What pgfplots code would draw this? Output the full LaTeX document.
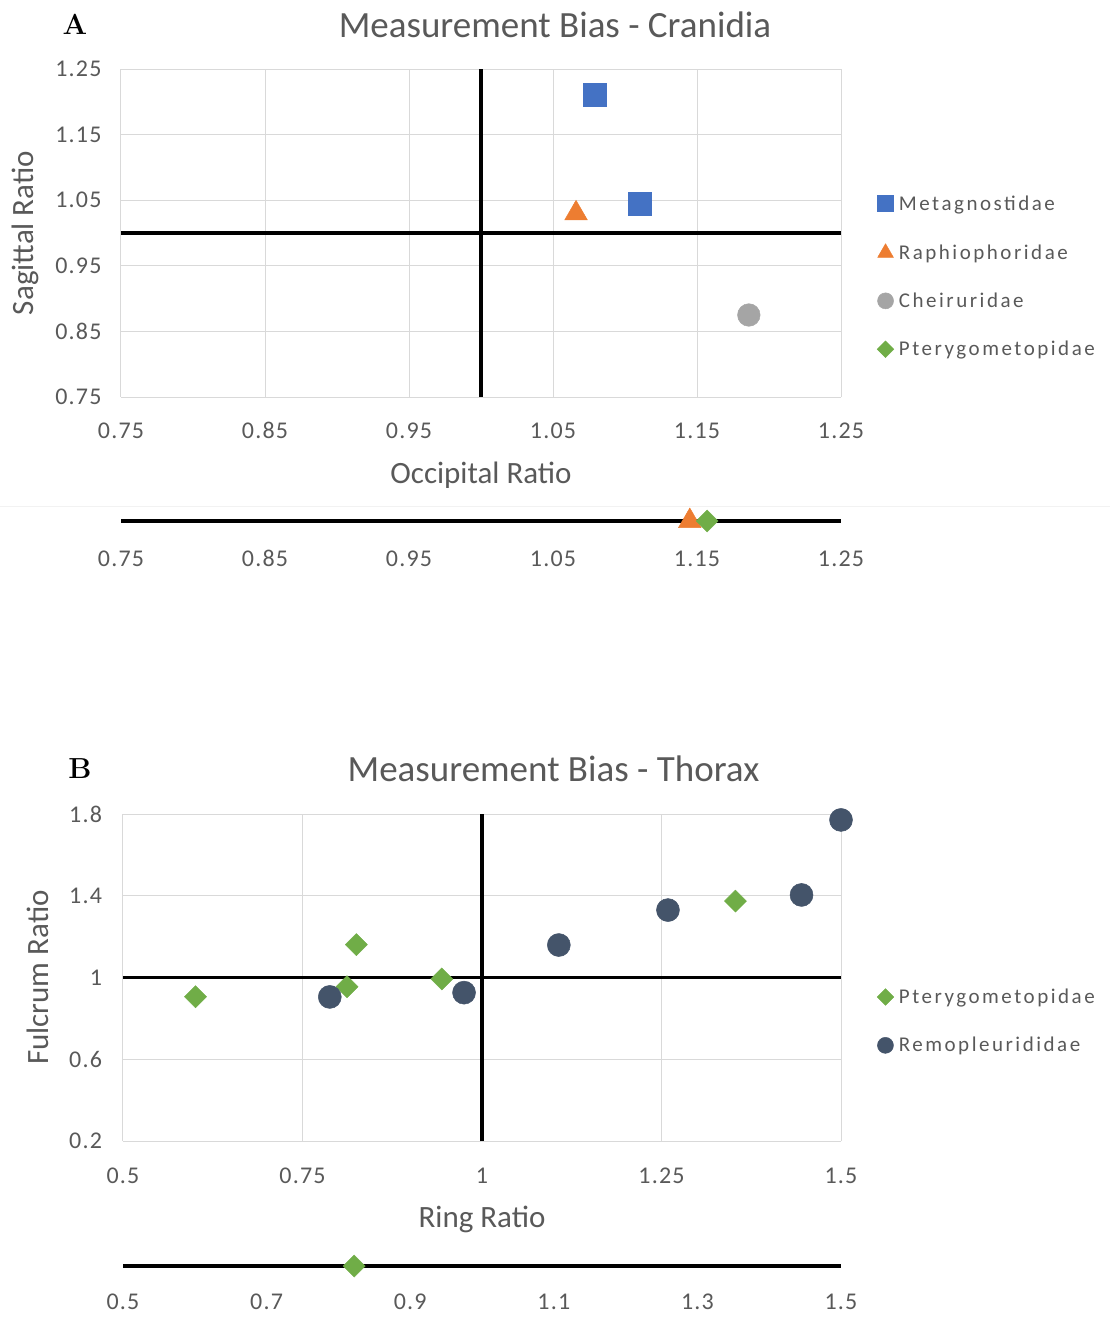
\documentclass[border=0pt]{standalone}
\usepackage{fontspec}
\setsansfont{Carlito}[Numbers=Lining]
\newfontfamily\legfont[LetterSpace=12]{Carlito}
\newfontfamily\tickfont[LetterSpace=5,Numbers=Lining]{Carlito}
\renewcommand{\familydefault}{\sfdefault}
\usepackage{pgfplots}
\pgfplotsset{compat=1.18}
\definecolor{cblue}{HTML}{4472C4}
\definecolor{corange}{HTML}{ED7D31}
\definecolor{cgray}{HTML}{A5A5A5}
\definecolor{cgreen}{HTML}{70AD47}
\definecolor{cnavy}{HTML}{44546A}
\definecolor{gridc}{HTML}{D9D9D9}
\definecolor{txt}{HTML}{595959}
\newcommand\ls{\rule[-4pt]{0pt}{18pt}}
\pgfplotsset{
  xl/.style={scale only axis, clip=false, axis line style={draw=none}, major tick length=0pt,
    xmajorgrids, ymajorgrids, grid style={gridc, line width=1pt},
    tick label style={font=\tickfont\fontsize{24}{24}\selectfont, text=txt},
    x tick label style={text height=15.5pt, text depth=0pt},
    label style={font=\fontsize{31}{31}\selectfont, text=txt},
    legend image code/.code={\draw[##1] plot coordinates {(0pt,0pt)};},
    legend style={draw=none, fill=none, inner sep=0pt, font=\legfont\fontsize{21}{21}\selectfont,
      text=txt, legend cell align=left, row sep=32pt, nodes={inner xsep=5pt, inner ysep=0pt}},
  },
  strip/.style={scale only axis, clip=false, axis line style={draw=none}, major tick length=0pt,
    ytick=\empty, ymin=-1, ymax=1, height=40pt,
    tick label style={font=\tickfont\fontsize{24}{24}\selectfont, text=txt, text height=15.5pt, text depth=0pt}},
  diam/.style={only marks, mark=square*, mark options={rotate=45, fill=cgreen, draw=cgreen, line width=0.4pt}},
}
\begin{document}
\begin{tikzpicture}
\useasboundingbox (0pt,0pt) rectangle (1110pt,-1320pt);
\draw[color=black!5, line width=0.8pt] (0pt,-506pt) -- (1110pt,-506pt);
\node[anchor=base, font=\rmfamily\bfseries\fontsize{29}{29}\selectfont] at (75pt,-34pt) {A};
\node[anchor=base, font=\rmfamily\bfseries\fontsize{29}{29}\selectfont] at (80pt,-778pt) {B};
\node[anchor=base, font=\fontsize{37}{37}\selectfont, text=txt] at (555pt,-37.5pt) {Measurement Bias - Cranidia};
\node[anchor=base, font=\fontsize{37}{37}\selectfont, text=txt] at (553.5pt,-781pt) {Measurement Bias - Thorax};

% ---------- A main ----------
\begin{axis}[xl, at={(121pt,-397pt)}, anchor=south west, width=720pt, height=328pt,
  xmin=0.75, xmax=1.25, ymin=0.75, ymax=1.25,
  xtick={0.75,0.85,0.95,1.05,1.15,1.25}, xticklabels={0.75,0.85,0.95,1.05,1.15,1.25},
  ytick={0.75,0.85,0.95,1.05,1.15,1.25}, yticklabels={0.75,0.85,0.95,1.05,1.15,1.25},
  xticklabel style={yshift=-22.4pt}, yticklabel style={xshift=-16pt},
  xlabel={Occipital Ratio}, ylabel={Sagittal Ratio},
  xlabel style={at={(axis description cs:0.5,-0.238)}, anchor=center},
  ylabel style={at={(axis description cs:-0.133,0.5)}, anchor=center},
  legend style={at={(axis description cs:1.050,0.367)}, anchor=west},
]
\addplot[black, line width=3.5pt, forget plot] coordinates {(0.75,1) (1.25,1)};
\addplot[black, line width=3.5pt, forget plot] coordinates {(1,0.75) (1,1.25)};
\addplot[only marks, mark=square*, mark size=11.5pt, mark options={fill=cblue, draw=cblue, line width=0.5pt},
  legend image post style={mark size=8pt}] coordinates {(1.079,1.211) (1.110,1.045)};
\addlegendentry{\ls Metagnostidae}
\addplot[only marks, mark=triangle*, mark size=13pt, mark options={fill=corange, draw=corange, line width=0.5pt},
  legend image post style={mark size=9pt}] coordinates {(1.066,1.030)};
\addlegendentry{\ls Raphiophoridae}
\addplot[only marks, mark=*, mark size=11.3pt, mark options={fill=cgray, draw=cgray, line width=0.5pt},
  legend image post style={mark size=8pt}] coordinates {(1.186,0.875)};
\addlegendentry{\ls Cheiruridae}
\addlegendimage{diam, mark size=5.9pt}
\addlegendentry{\ls Pterygometopidae}
\end{axis}

% ---------- A strip ----------
\begin{axis}[strip, at={(121pt,-541pt)}, anchor=south west, width=720pt,
  xmin=0.75, xmax=1.25,
  xtick={0.75,0.85,0.95,1.05,1.15,1.25}, xticklabels={0.75,0.85,0.95,1.05,1.15,1.25},
  xticklabel style={yshift=-6.4pt}]
\addplot[black, line width=3.5pt] coordinates {(0.75,0) (1.25,0)};
\addplot[only marks, mark=triangle*, mark size=13pt, mark options={fill=corange, draw=corange, line width=0.5pt}] coordinates {(1.145,0)};
\addplot[diam, mark size=7.8pt] coordinates {(1.157,0)};
\end{axis}

% ---------- B main ----------
\begin{axis}[xl, at={(123pt,-1141pt)}, anchor=south west, width=718pt, height=327pt,
  xmin=0.5, xmax=1.5, ymin=0.2, ymax=1.8,
  xtick={0.5,0.75,1,1.25,1.5}, xticklabels={0.5,0.75,1,1.25,1.5},
  ytick={0.2,0.6,1,1.4,1.8}, yticklabels={0.2,0.6,1,1.4,1.8},
  xticklabel style={yshift=-23pt}, yticklabel style={xshift=-17.5pt},
  xlabel={Ring Ratio}, ylabel={Fulcrum Ratio},
  xlabel style={at={(axis description cs:0.5,-0.241)}, anchor=center},
  ylabel style={at={(axis description cs:-0.118,0.5)}, anchor=center},
  legend style={at={(axis description cs:1.050,0.367)}, anchor=west},
]
\addplot[black, line width=3.5pt, forget plot] coordinates {(0.5,1) (1.5,1)};
\addplot[black, line width=3.5pt, forget plot] coordinates {(1,0.2) (1,1.8)};
\addplot[diam, mark size=7.8pt, legend image post style={mark size=5.9pt}] coordinates {
  (0.601,0.906) (0.825,1.161) (0.812,0.955) (0.944,0.993) (1.353,1.374)};
\addlegendentry{\ls Pterygometopidae}
\addplot[only marks, mark=*, mark size=11.5pt, mark options={fill=cnavy, draw=cnavy, line width=0.5pt},
  legend image post style={mark size=8pt}] coordinates {
  (0.788,0.905) (0.975,0.926) (1.107,1.159) (1.259,1.330) (1.445,1.404) (1.500,1.771)};
\addlegendentry{\ls Remopleurididae}
\end{axis}

% ---------- B strip ----------
\begin{axis}[strip, at={(123pt,-1286pt)}, anchor=south west, width=718pt,
  xmin=0.5, xmax=1.5,
  xtick={0.5,0.7,0.9,1.1,1.3,1.5}, xticklabels={0.5,0.7,0.9,1.1,1.3,1.5},
  xticklabel style={yshift=-4pt}]
\addplot[black, line width=3.5pt] coordinates {(0.5,0) (1.5,0)};
\addplot[diam, mark size=7.8pt] coordinates {(0.822,0)};
\end{axis}
\end{tikzpicture}
\end{document}
